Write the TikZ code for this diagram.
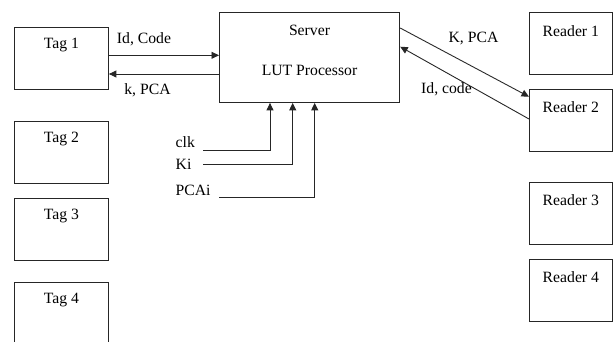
\documentclass[tikz,border=0pt]{standalone}
\usepackage{fontspec}
\setmainfont{Liberation Serif}
\usetikzlibrary{arrows.meta}
\begin{document}
\begin{tikzpicture}[x=1pt,y=-1pt,
  box/.style={draw=black!85, line width=0.9pt, anchor=north west, inner sep=0pt, minimum width=#1},
  tagbox/.style={box=94pt, minimum height=62.5pt},
  rdbox/.style={box=82.8pt, minimum height=62pt},
  txt/.style={font=\fontsize{15.7}{18}\selectfont, inner sep=0pt, text=black},
  arr/.style={draw=black!85, line width=0.9pt, -{Triangle[length=7.5pt,width=7pt]}},
  ln/.style={draw=black!85, line width=0.9pt}]
\useasboundingbox (0,0) rectangle (613,341);
% tags
\node[tagbox] (t1) at (14,26.7) {};
\node[tagbox] (t2) at (14,120.7) {};
\node[tagbox] (t3) at (14,197.7) {};
\node[tagbox] (t4) at (14,282) {};
\node[txt] (t1l) at ([yshift=-18pt]t1.north) {Tag 1};
\node[txt] (t2l) at ([yshift=-18pt]t2.north) {Tag 2};
\node[txt] (t3l) at ([yshift=-18pt]t3.north) {Tag 3};
\node[txt] (t4l) at ([yshift=-18pt]t4.north) {Tag 4};
% readers
\node[rdbox] (r1) at (529,12.3) {};
\node[rdbox] (r2) at (529,89.3) {};
\node[rdbox] (r3) at (529,182) {};
\node[rdbox] (r4) at (529,259) {};
\node[txt] (r1l) at ([yshift=-19pt]r1.north) {Reader 1};
\node[txt] (r2l) at ([yshift=-17.5pt]r2.north) {Reader 2};
\node[txt] (r3l) at ([yshift=-18pt]r3.north) {Reader 3};
\node[txt] (r4l) at ([yshift=-18pt]r4.north) {Reader 4};
% server
\node[box=180.3pt, minimum height=89.7pt] (srv) at (219,12.3) {};
\node[txt] (srvl) at (309.5,30) {Server};
\node[txt] (lut) at (309.5,70.7) {LUT Processor};
% tag 1 <-> server
\coordinate (ya) at (0,55.3);
\coordinate (yb) at (0,74);
\draw[arr] (t1.east |- ya) -- (srv.west |- ya);
\draw[arr] (srv.west |- yb) -- (t1.east |- yb);
\node[txt] (lidc) at (144,39) {Id, Code};
\node[txt] (lkp) at (147.5,90) {k, PCA};
% server <-> reader 2
\coordinate (yc) at (0,28);
\coordinate (yd) at (0,96.7);
\coordinate (ye) at (0,119);
\coordinate (yf) at (0,46.7);
\draw[arr] (srv.east |- yc) -- (r2.west |- yd);
\draw[arr] (r2.west |- ye) -- (srv.east |- yf);
\node[txt] (lkpca) at (473.5,39) {K, PCA};
\node[txt] (lidcode) at (446.5,89) {Id, code};
% inputs
\coordinate (xa) at (270,0);
\coordinate (xb) at (292.7,0);
\coordinate (xc) at (314.7,0);
\coordinate (sclk) at (203,150);
\coordinate (ski) at (203,164);
\coordinate (spca) at (219,197);
\draw[arr] (sclk) -| (srv.south -| xa);
\draw[arr] (ski) -| (srv.south -| xb);
\draw[arr] (spca) -| (srv.south -| xc);
\node[txt, anchor=west] (lclk) at (175.5,142) {clk};
\node[txt, anchor=west] (lki) at (175.5,164) {Ki};
\node[txt, anchor=west] (lpcai) at (175.5,190) {PCAi};
\end{tikzpicture}
\end{document}
